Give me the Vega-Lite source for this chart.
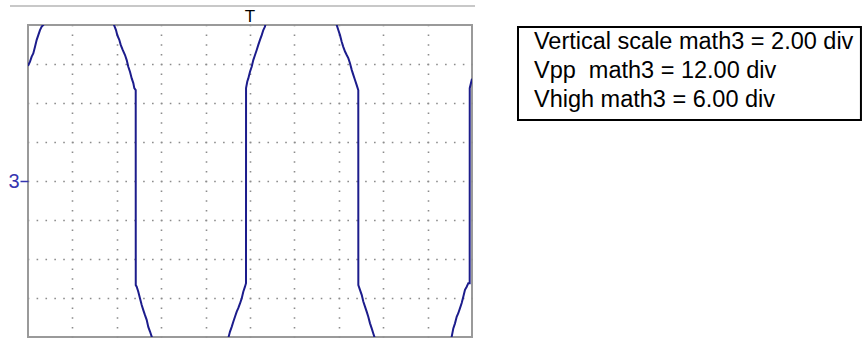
{
  "$schema": "https://vega.github.io/schema/vega-lite/v6.json",
  "width": 444,
  "height": 312,
  "autosize": {"type": "none"},
  "padding": {"left": 28, "top": 25, "right": 393, "bottom": 1},
  "background": "white",
  "config": {
    "view": {"stroke": "#9a9a9a", "strokeWidth": 2},
    "font": "Liberation Sans"
  },
  "layer": [
    {
      "data": {"values": [
        {"t": 0.0, "v": 2.95}, {"t": 0.045, "v": 3.06}, {"t": 0.083, "v": 3.19}, {"t": 0.119, "v": 3.27}, {"t": 0.158, "v": 3.44}, {"t": 0.196, "v": 3.62}, {"t": 0.232, "v": 3.74}, {"t": 0.27, "v": 3.87}, {"t": 0.309, "v": 3.96}, {"t": 0.345, "v": 4.0}, {"t": 0.36, "v": 4.1},
        {"t": 1.914, "v": 4.1}, {"t": 1.937, "v": 4.0}, {"t": 1.982, "v": 3.87}, {"t": 2.011, "v": 3.74}, {"t": 2.056, "v": 3.62}, {"t": 2.088, "v": 3.49}, {"t": 2.133, "v": 3.36}, {"t": 2.185, "v": 3.23}, {"t": 2.223, "v": 3.1}, {"t": 2.259, "v": 2.93}, {"t": 2.297, "v": 2.8}, {"t": 2.336, "v": 2.63}, {"t": 2.372, "v": 2.51}, {"t": 2.394, "v": 2.38}, {"t": 2.426, "v": 2.33},
        {"t": 2.427, "v": -2.67}, {"t": 2.448, "v": -2.71}, {"t": 2.484, "v": -2.84}, {"t": 2.523, "v": -3.01}, {"t": 2.561, "v": -3.18}, {"t": 2.597, "v": -3.31}, {"t": 2.635, "v": -3.44}, {"t": 2.673, "v": -3.56}, {"t": 2.709, "v": -3.74}, {"t": 2.748, "v": -3.86}, {"t": 2.786, "v": -3.99}, {"t": 2.815, "v": -4.1},
        {"t": 4.505, "v": -4.1}, {"t": 4.52, "v": -3.99}, {"t": 4.55, "v": -3.86}, {"t": 4.588, "v": -3.74}, {"t": 4.624, "v": -3.61}, {"t": 4.662, "v": -3.48}, {"t": 4.701, "v": -3.35}, {"t": 4.736, "v": -3.26}, {"t": 4.775, "v": -3.14}, {"t": 4.813, "v": -3.01}, {"t": 4.849, "v": -2.84}, {"t": 4.887, "v": -2.71}, {"t": 4.91, "v": -2.62},
        {"t": 4.911, "v": 2.38}, {"t": 4.939, "v": 2.55}, {"t": 4.962, "v": 2.63}, {"t": 5.0, "v": 2.8}, {"t": 5.038, "v": 2.93}, {"t": 5.074, "v": 3.1}, {"t": 5.113, "v": 3.23}, {"t": 5.151, "v": 3.36}, {"t": 5.187, "v": 3.49}, {"t": 5.225, "v": 3.62}, {"t": 5.264, "v": 3.74}, {"t": 5.3, "v": 3.87}, {"t": 5.338, "v": 3.96}, {"t": 5.36, "v": 4.1},
        {"t": 6.937, "v": 4.1}, {"t": 6.953, "v": 4.0}, {"t": 6.989, "v": 3.87}, {"t": 7.027, "v": 3.74}, {"t": 7.065, "v": 3.57}, {"t": 7.101, "v": 3.44}, {"t": 7.14, "v": 3.32}, {"t": 7.178, "v": 3.23}, {"t": 7.214, "v": 3.15}, {"t": 7.252, "v": 3.02}, {"t": 7.291, "v": 2.85}, {"t": 7.327, "v": 2.72}, {"t": 7.365, "v": 2.59}, {"t": 7.403, "v": 2.46}, {"t": 7.439, "v": 2.33},
        {"t": 7.44, "v": -2.67}, {"t": 7.477, "v": -2.79}, {"t": 7.516, "v": -2.92}, {"t": 7.552, "v": -3.09}, {"t": 7.59, "v": -3.22}, {"t": 7.628, "v": -3.35}, {"t": 7.664, "v": -3.48}, {"t": 7.703, "v": -3.65}, {"t": 7.741, "v": -3.78}, {"t": 7.777, "v": -3.91}, {"t": 7.8, "v": -3.99}, {"t": 7.827, "v": -4.1},
        {"t": 9.527, "v": -4.1}, {"t": 9.543, "v": -3.99}, {"t": 9.579, "v": -3.78}, {"t": 9.617, "v": -3.65}, {"t": 9.655, "v": -3.48}, {"t": 9.691, "v": -3.39}, {"t": 9.73, "v": -3.26}, {"t": 9.768, "v": -3.13}, {"t": 9.804, "v": -2.97}, {"t": 9.842, "v": -2.79}, {"t": 9.881, "v": -2.71}, {"t": 9.917, "v": -2.62}, {"t": 9.948, "v": -2.62},
        {"t": 9.949, "v": 2.38}, {"t": 9.993, "v": 2.59}, {"t": 10.0, "v": 2.62}
      ]},
      "mark": {"type": "line", "clip": true, "color": "#1c1c8c", "strokeWidth": 2, "strokeJoin": "miter"},
      "encoding": {
        "x": {
          "field": "t", "type": "quantitative", "sort": null,
          "scale": {"domain": [0, 10], "nice": false, "zero": false},
          "axis": {
            "values": [1, 2, 3, 4, 5, 6, 7, 8, 9],
            "labels": false, "ticks": false, "domain": false, "title": null,
            "grid": true, "gridColor": "#8c8c8c", "gridWidth": 1.6,
            "gridDash": [1.6, 8.15], "gridDashOffset": 0.8, "gridOpacity": 1
          }
        },
        "y": {
          "field": "v", "type": "quantitative",
          "scale": {"domain": [-4, 4], "nice": false, "zero": false},
          "axis": {
            "values": [-3, -2, -1, 0, 1, 2, 3],
            "labelExpr": "datum.value == 0 ? '3' : ''",
            "labelColor": "#3535b0", "labelFontSize": 20, "labelFont": "Liberation Sans",
            "labelPadding": 1,
            "tickSize": 8, "tickWidth": 1.5,
            "tickColor": {"condition": {"test": "datum.value == 0", "value": "#3535b0"}, "value": "transparent"},
            "domain": false, "title": null,
            "grid": true, "gridColor": "#8c8c8c", "gridWidth": 1.6,
            "gridDash": [1.6, 7.28], "gridDashOffset": 0.8, "gridOpacity": 1
          }
        }
      }
    },
    {
      "data": {"values": [{"name": "trigger line"}]},
      "mark": {"type": "rule", "color": "#c8c8c8", "strokeWidth": 2},
      "encoding": {
        "x": {"datum": -0.405, "type": "quantitative"},
        "x2": {"datum": 10.068},
        "y": {"datum": 4.487, "type": "quantitative"}
      }
    },
    {
      "data": {"values": [{"label": "T"}]},
      "mark": {"type": "text", "fontSize": 17, "color": "black", "align": "center", "baseline": "alphabetic", "font": "Liberation Sans"},
      "encoding": {
        "x": {"datum": 5.0, "type": "quantitative"},
        "y": {"datum": 4.077, "type": "quantitative"},
        "text": {"field": "label"}
      }
    },
    {
      "data": {"values": [{"name": "box"}]},
      "mark": {"type": "rect", "fill": "white", "stroke": "black", "strokeWidth": 2},
      "encoding": {
        "x": {"datum": 11.036, "type": "quantitative"},
        "x2": {"datum": 18.76},
        "y": {"datum": 3.949, "type": "quantitative"},
        "y2": {"datum": 1.564}
      }
    },
    {
      "data": {"values": [{"label": "Vertical scale math3 = 2.00 div\nVpp\u00a0 math3 = 12.00 div\nVhigh math3 = 6.00 div"}]},
      "mark": {"type": "text", "fontSize": 23.5, "color": "black", "align": "left", "baseline": "alphabetic", "lineBreak": "\n", "lineHeight": 29, "font": "Liberation Sans"},
      "encoding": {
        "x": {"datum": 11.396, "type": "quantitative"},
        "y": {"datum": 3.372, "type": "quantitative"},
        "text": {"field": "label"}
      }
    }
  ]
}
